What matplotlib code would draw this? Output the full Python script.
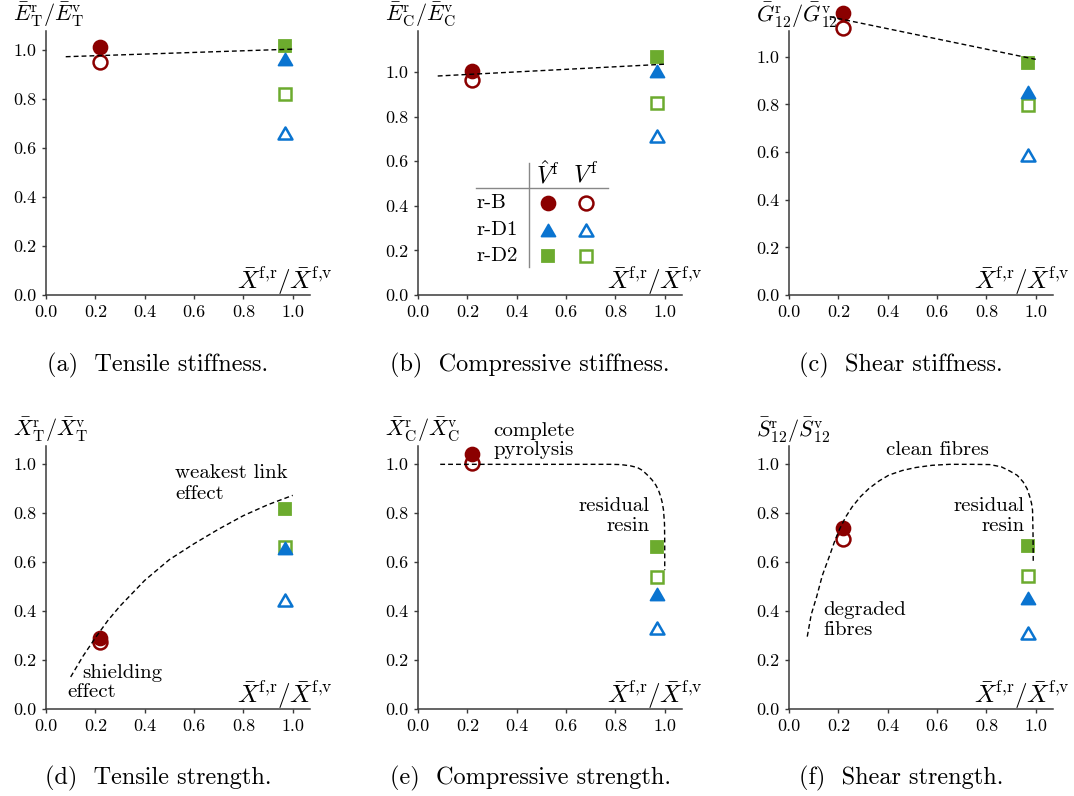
import matplotlib

matplotlib.use("Agg")
import matplotlib.pyplot as plt
from matplotlib.path import Path

plt.rcParams.update({
    "font.family": "cmr10",
    "mathtext.fontset": "cm",
    "axes.formatter.use_mathtext": True,
    "axes.unicode_minus": False,
})

# fibre strength ratio per recyclate: r-B, r-D1, r-D2
fibre_ratio = [0.217, 0.967, 0.967]

# composite property ratios, V-hat^f normalised (filled) and V^f normalised (open)
tens_stiff_hat = [1.013, 0.962, 1.018]
tens_stiff_raw = [0.951, 0.660, 0.822]
comp_stiff_hat = [1.006, 1.004, 1.067]
comp_stiff_raw = [0.964, 0.715, 0.861]
shear_stiff_hat = [1.182, 0.853, 0.972]
shear_stiff_raw = [1.120, 0.587, 0.796]
tens_str_hat = [0.291, 0.657, 0.816]
tens_str_raw = [0.274, 0.446, 0.663]
comp_str_hat = [1.043, 0.470, 0.663]
comp_str_raw = [1.006, 0.331, 0.537]
shear_str_hat = [0.738, 0.454, 0.665]
shear_str_raw = [0.693, 0.311, 0.544]

# sketched trend lines
tens_stiff_trend_x = [0.08, 1.0]
tens_stiff_trend_y = [0.973, 1.004]
comp_stiff_trend_x = [0.08, 1.0]
comp_stiff_trend_y = [0.983, 1.036]
shear_stiff_trend_x = [0.165, 1.0]
shear_stiff_trend_y = [1.168, 0.989]
tens_str_trend_x = [0.10, 0.15, 0.20, 0.25, 0.30, 0.40, 0.50, 0.60, 0.70, 0.80, 0.90, 1.00]
tens_str_trend_y = [0.13, 0.215, 0.29, 0.36, 0.42, 0.525, 0.61, 0.675, 0.735, 0.79, 0.835, 0.873]
comp_str_trend_x = [0.09, 0.50, 0.78, 0.821, 0.86, 0.889, 0.91, 0.930, 0.948, 0.964, 0.975,
                    0.984, 0.990, 0.995, 0.999, 1.0, 1.0]
comp_str_trend_y = [1.0, 1.0, 1.0, 0.999, 0.994, 0.987, 0.975, 0.956, 0.937, 0.915, 0.893,
                    0.867, 0.843, 0.813, 0.758, 0.68, 0.567]
shear_str_trend_x = [0.074, 0.09, 0.112, 0.135, 0.163, 0.185, 0.206, 0.23, 0.256, 0.29, 0.324,
                     0.365, 0.405, 0.46, 0.514, 0.58, 0.65, 0.74, 0.813, 0.86, 0.894, 0.925,
                     0.949, 0.965, 0.976, 0.983, 0.987, 0.989, 0.990]
shear_str_trend_y = [0.295, 0.385, 0.458, 0.545, 0.622, 0.685, 0.737, 0.785, 0.826, 0.868, 0.901,
                     0.932, 0.956, 0.975, 0.987, 0.996, 1.0, 1.0, 0.999, 0.99, 0.973, 0.955,
                     0.928, 0.9, 0.867, 0.84, 0.813, 0.72, 0.594]

series_names = ["r-B", "r-D1", "r-D2"]
captions = ["(a)  Tensile stiffness.", "(b)  Compressive stiffness.", "(c)  Shear stiffness.",
            "(d)  Tensile strength.", "(e)  Compressive strength.", "(f)  Shear strength."]
ylabels = [
    r"$\bar{E}^{\mathrm{r}}_{\mathrm{T}}/\bar{E}^{\mathrm{v}}_{\mathrm{T}}$",
    r"$\bar{E}^{\mathrm{r}}_{\mathrm{C}}/\bar{E}^{\mathrm{v}}_{\mathrm{C}}$",
    r"$\bar{G}^{\mathrm{r}}_{12}/\bar{G}^{\mathrm{v}}_{12}$",
    r"$\bar{X}^{\mathrm{r}}_{\mathrm{T}}/\bar{X}^{\mathrm{v}}_{\mathrm{T}}$",
    r"$\bar{X}^{\mathrm{r}}_{\mathrm{C}}/\bar{X}^{\mathrm{v}}_{\mathrm{C}}$",
    r"$\bar{S}^{\mathrm{r}}_{12}/\bar{S}^{\mathrm{v}}_{12}$",
]
xlabel = r"$\bar{X}^{\mathrm{f{,}r}}/\bar{X}^{\mathrm{f{,}v}}$"

RED = "#8b0000"
BLUE = "#0a74d0"
GREEN = "#6cab2e"
colors = [RED, BLUE, GREEN]

TRI = Path([(-1, -0.866), (1, -0.866), (0, 0.866), (-1, -0.866)], closed=True)
markers = ["o", TRI, "s"]
sizes = [10.0, 10.0, 9.2]

W, H = 1074, 796
col_left = [46, 418, 789]
xlabel_right = [1.085, 1.08, 1.062]
ax_width = 264
row_bottom = [295, 708.7]
row_top = [31, 446]
ylims = [1.078, 1.185, 1.108, 1.075, 1.075, 1.075]

fig = plt.figure(figsize=(W / 100, H / 100), dpi=100)


def add_panel(i):
    r, c = divmod(i, 3)
    rect = [col_left[c] / W, 1 - row_bottom[r] / H, ax_width / W,
            (row_bottom[r] - row_top[r]) / H]
    ax = fig.add_axes(rect)
    ax.set_xlim(0, 1.07)
    ax.set_ylim(0, ylims[i])
    ax.set_xticks([0.0, 0.2, 0.4, 0.6, 0.8, 1.0])
    ax.set_yticks([0.0, 0.2, 0.4, 0.6, 0.8, 1.0])
    ax.xaxis.set_major_formatter(matplotlib.ticker.FormatStrFormatter("%.1f"))
    ax.yaxis.set_major_formatter(matplotlib.ticker.FormatStrFormatter("%.1f"))
    for side in ("top", "right"):
        ax.spines[side].set_visible(False)
    for side in ("left", "bottom"):
        ax.spines[side].set_color("#3a3a3a")
        ax.spines[side].set_linewidth(1.1)
    ax.tick_params(direction="out", length=3, width=1, color="#3a3a3a",
                   labelsize=13, pad=4)
    ax.text(xlabel_right[c], -0.008, xlabel, transform=ax.transAxes, ha="right",
            va="bottom", fontsize=18)
    fig.text((col_left[c] - 33) / W, 1 - (row_top[r] - 16) / H, ylabels[i],
             ha="left", va="center", fontsize=16)
    fig.text((col_left[c] + ax_width / 2 - 20) / W, 1 - (row_bottom[r] + 70) / H,
             captions[i], ha="center", va="center", fontsize=17.5)
    return ax


def draw_points(ax, hat, raw, x=fibre_ratio):
    for j in range(3):
        ax.plot([x[j]], [raw[j]], ls="none", marker=markers[j], ms=sizes[j],
                mfc="white", mec=colors[j], mew=1.8, clip_on=False, zorder=3)
    for j in (0, 2, 1):
        ax.plot([x[j]], [hat[j]], ls="none", marker=markers[j], ms=sizes[j],
                mfc=colors[j], mec=colors[j], mew=1.3, clip_on=False, zorder=4)


def draw_trend(ax, xs, ys):
    ax.plot(xs, ys, color="black", lw=1.0, ls=(0, (3.5, 2.2)), clip_on=False, zorder=5)


panels = [
    (tens_stiff_hat, tens_stiff_raw, tens_stiff_trend_x, tens_stiff_trend_y),
    (comp_stiff_hat, comp_stiff_raw, comp_stiff_trend_x, comp_stiff_trend_y),
    (shear_stiff_hat, shear_stiff_raw, shear_stiff_trend_x, shear_stiff_trend_y),
    (tens_str_hat, tens_str_raw, tens_str_trend_x, tens_str_trend_y),
    (comp_str_hat, comp_str_raw, comp_str_trend_x, comp_str_trend_y),
    (shear_str_hat, shear_str_raw, shear_str_trend_x, shear_str_trend_y),
]

axes = []
for i, (hat, raw, tx, ty) in enumerate(panels):
    ax = add_panel(i)
    draw_points(ax, hat, raw)
    draw_trend(ax, tx, ty)
    axes.append(ax)

# table-style legend inside the compressive stiffness panel
axl = axes[1]
axl.plot([0.451, 0.451], [0.124, 0.591], color="#888888", lw=1.0)
axl.plot([0.236, 0.77], [0.479, 0.479], color="#888888", lw=1.0)
axl.text(0.527, 0.539, r"$\hat{V}^{\mathrm{f}}$", ha="center", va="center", fontsize=17.5)
axl.text(0.681, 0.539, r"$V^{\mathrm{f}}$", ha="center", va="center", fontsize=17.5)
row_y = [0.414, 0.292, 0.175]
for j, name in enumerate(series_names):
    axl.text(0.238, row_y[j], name, ha="left", va="center", fontsize=15)
    axl.plot([0.527], [row_y[j]], ls="none", marker=markers[j], ms=sizes[j],
             mfc=colors[j], mec=colors[j], mew=1.3)
    axl.plot([0.681], [row_y[j]], ls="none", marker=markers[j], ms=sizes[j],
             mfc="white", mec=colors[j], mew=1.8)

# annotations on the strength panels
note_kw = dict(fontsize=15, va="baseline")
axes[3].text(0.523, 0.943, "weakest link", ha="left", **note_kw)
axes[3].text(0.523, 0.857, "effect", ha="left", **note_kw)
axes[3].text(0.145, 0.124, "shielding", ha="left", **note_kw)
axes[3].text(0.088, 0.047, "effect", ha="left", **note_kw)
axes[4].text(0.306, 1.115, "complete", ha="left", clip_on=False, **note_kw)
axes[4].text(0.306, 1.038, "pyrolysis", ha="left", **note_kw)
axes[4].text(0.938, 0.810, "residual", ha="right", **note_kw)
axes[4].text(0.938, 0.728, "resin", ha="right", **note_kw)
axes[5].text(0.393, 1.038, "clean fibres", ha="left", **note_kw)
axes[5].text(0.954, 0.810, "residual", ha="right", **note_kw)
axes[5].text(0.954, 0.728, "resin", ha="right", **note_kw)
axes[5].text(0.139, 0.383, "degraded", ha="left", **note_kw)
axes[5].text(0.139, 0.301, "fibres", ha="left", **note_kw)

fig.savefig("out.png", dpi=100)
